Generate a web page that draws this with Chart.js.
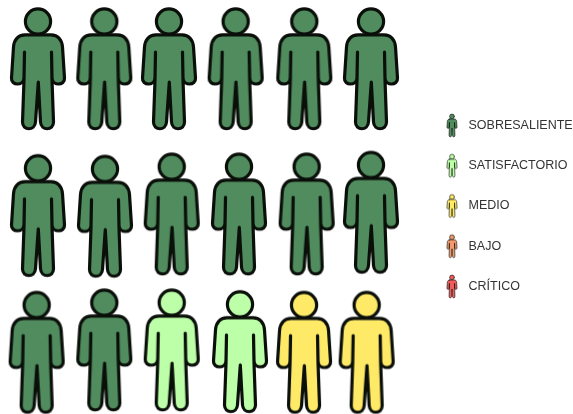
<!DOCTYPE html>
<html><head><meta charset="utf-8">
<script src="https://cdn.jsdelivr.net/npm/chart.js@4"></script>
<style>html,body{margin:0;padding:0;background:#fff}canvas{display:block}</style>
</head><body><canvas id="c" width="573" height="414"></canvas>
<script>
const categories = ['SOBRESALIENTE','SATISFACTORIO','MEDIO','BAJO','CRÍTICO'];
const fills = ['#508c5e','#bcffa8','#ffea68','#f29a6e','#ee5c5c'];
// column / row position of each figure in the picture
const sobresalienteCol = [0,0.995,1.967,2.968,3.998,5, 0,1.006,2.008,3.018,4.034,5, -0.02,0.995];
const sobresalienteRow = [0,0,0,0,0,0, 1.041,1.046,1.03,1.03,1.03,1.018, 2.011,1.994];
const satisfactorioCol = [2.008,3.033];
const satisfactorioRow = [1.994,2.006];
const medioCol = [3.994,4.935];
const medioRow = [2.011,2.011];
const bajoCol = [];
const bajoRow = [];
const criticoCol = [];
const criticoRow = [];
const colsX = [sobresalienteCol,satisfactorioCol,medioCol,bajoCol,criticoCol];
const rowsY = [sobresalienteRow,satisfactorioRow,medioRow,bajoRow,criticoRow];

function person(fill, s, blur){
  const w = Math.ceil(60*s)+4, h = Math.ceil(128*s)+4;
  const cv = document.createElement('canvas'); cv.width=w; cv.height=h;
  const g = cv.getContext('2d');
  g.filter = 'blur('+blur+'px)';
  g.translate(w/2,h/2); g.scale(s,s); g.translate(-38,-69);
  g.lineJoin='round'; g.lineCap='round'; g.lineWidth=3.2; g.strokeStyle='#0a0f0a'; g.fillStyle=fill;
  g.beginPath(); g.arc(38,21.5,12.6,0,Math.PI*2); g.fill(); g.stroke();
  g.beginPath();
  g.moveTo(25,34.8); g.lineTo(51,34.8);
  g.bezierCurveTo(58,35,62,40,62.5,47);
  g.lineTo(64.5,78);
  g.bezierCurveTo(65,86,52.5,86,52,78);
  g.lineTo(51.5,52);
  g.lineTo(52,80);
  g.lineTo(53.5,122);
  g.bezierCurveTo(53.5,131,41,131,40.5,122);
  g.lineTo(38.3,82);
  g.lineTo(35.5,122);
  g.bezierCurveTo(35,131,22.5,131,22.5,122);
  g.lineTo(24,80);
  g.lineTo(24.5,52);
  g.lineTo(24,78);
  g.bezierCurveTo(23.5,86,11,86,11.5,78);
  g.lineTo(13.5,47);
  g.bezierCurveTo(14,40,18,35,25,34.8);
  g.closePath(); g.fill(); g.stroke();
  return cv;
}
const bigIcons = fills.map(f=>person(f,1,0.35));
const smallIcons = fills.map(f=>person(f,0.19,0.25));

new Chart(document.getElementById('c'),{
  type:'scatter',
  data:{datasets:categories.map((label,i)=>({
    label,
    data:colsX[i].map((x,k)=>({x,y:rowsY[i][k]})),
    pointStyle:bigIcons[i],
    clip:false
  }))},
  options:{
    responsive:false,animation:false,
    layout:{autoPadding:false,padding:{bottom:2}},
    scales:{
      x:{display:false,min:-38/66.6,max:(414-38)/66.6},
      y:{display:false,reverse:true,min:-69/141,max:(412-69)/141}
    },
    plugins:{
      tooltip:{enabled:false},
      legend:{
        position:'right',maxWidth:159,
        labels:{
          usePointStyle:true,pointStyleWidth:20.5,padding:27.75,color:'#333',
          font:{family:'"Liberation Sans",Arial,sans-serif',size:12.5},
          generateLabels:(chart)=>categories.map((text,i)=>({
            text,datasetIndex:i,pointStyle:smallIcons[i],fontColor:'#333',
            fillStyle:fills[i],strokeStyle:'#000',lineWidth:0,hidden:false
          }))
        }
      }
    }
  }
});
</script></body></html>
